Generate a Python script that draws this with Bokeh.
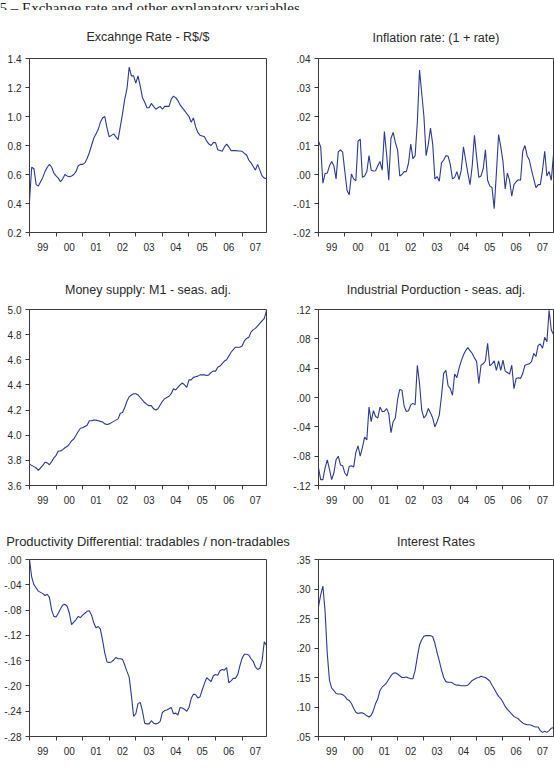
import numpy as np
from bokeh.plotting import figure
from bokeh.layouts import column, row
from bokeh.models import FixedTicker, Range1d
from bokeh.core.properties import value
from bokeh.embed import file_html
from bokeh.resources import INLINE

# ---------------- data (monthly, Jan 1999 .. Dec 2007) ----------------
months = list(range(108))
year_labels = ["99", "00", "01", "02", "03", "04", "05", "06", "07"]
header_text = "5 \u2013 Exchange rate and other explanatory variables"

titles = ["Excahnge Rate - R$/$", "Inflation rate: (1 + rate)",
          "Money supply: M1 - seas. adj.", "Industrial Porduction - seas. adj.",
          "Productivity Differential: tradables / non-tradables", "Interest Rates"]

exchange_rate = [
    0.42, 0.65, 0.64, 0.53, 0.52, 0.55, 0.58, 0.62, 0.65, 0.67, 0.65, 0.61,
    0.59, 0.575, 0.55, 0.57, 0.60, 0.59, 0.585, 0.59, 0.60, 0.62, 0.66, 0.67,
    0.67, 0.68, 0.71, 0.75, 0.80, 0.85, 0.88, 0.91, 0.96, 0.99, 1.00, 0.92,
    0.86, 0.87, 0.88, 0.86, 0.84, 0.93, 1.02, 1.12, 1.19, 1.34, 1.28, 1.28,
    1.23, 1.28, 1.21, 1.13, 1.10, 1.06, 1.06, 1.09, 1.07, 1.05, 1.06, 1.07,
    1.05, 1.07, 1.07, 1.07, 1.12, 1.14, 1.13, 1.11, 1.08, 1.06, 1.04, 1.02,
    1.00, 0.96, 0.99, 0.93, 0.89, 0.87, 0.865, 0.86, 0.83, 0.81, 0.80, 0.82,
    0.82, 0.77, 0.765, 0.76, 0.79, 0.81, 0.79, 0.765, 0.765, 0.765, 0.763, 0.762,
    0.76, 0.745, 0.735, 0.70, 0.68, 0.655, 0.63, 0.67, 0.63, 0.59, 0.575, 0.57]

inflation = [
    0.0115, 0.0095, -0.003, 0.0003, 0.0005, 0.003, 0.0045, 0.003, -0.0015, 0.0078, 0.0085, 0.0077,
    0.001, -0.0055, -0.007, 0.0002, -0.0015, -0.0022, 0.0115, 0.0122, -0.001, -0.0005, 0.001, 0.0065,
    0.0015, 0.0012, 0.0013, 0.003, 0.0045, 0.0015, 0.0148, 0.007, -0.002, 0.0125, 0.0145, 0.011,
    0.0085, -0.0005, 0.0, 0.001, 0.001, 0.004, 0.0105, 0.0055, 0.0065, 0.018, 0.036, 0.028,
    0.020, 0.0065, 0.0105, 0.016, 0.0105, -0.0015, -0.0007, -0.0023, 0.004, 0.005, 0.0065, 0.0063,
    0.0035, -0.0015, -0.001, 0.001, -0.0018, 0.0015, 0.0095, 0.005, 0.0005, -0.0035, 0.003, 0.0135,
    0.006, -0.001, -0.0005, 0.002, 0.0085, -0.002, -0.004, -0.0045, -0.0118, 0.0005, 0.0138, 0.0095,
    0.0045, -0.005, 0.0005, -0.002, -0.0075, -0.0035, -0.0025, -0.0018, -0.002, 0.008, 0.010, 0.0065,
    0.005, 0.0015, -0.0015, -0.0045, -0.0035, -0.0035, 0.0015, 0.008, -0.0005, 0.001, -0.002, 0.007]

money_m1 = [
    3.77, 3.76, 3.75, 3.74, 3.72, 3.74, 3.76, 3.785, 3.78, 3.765, 3.79, 3.82,
    3.84, 3.875, 3.875, 3.885, 3.90, 3.91, 3.93, 3.955, 3.97, 4.00, 4.03, 4.055,
    4.06, 4.07, 4.08, 4.115, 4.115, 4.12, 4.12, 4.115, 4.11, 4.105, 4.09, 4.085,
    4.09, 4.10, 4.11, 4.12, 4.13, 4.175, 4.18, 4.22, 4.27, 4.305, 4.32, 4.33,
    4.33, 4.32, 4.30, 4.28, 4.26, 4.245, 4.235, 4.235, 4.21, 4.20, 4.21, 4.24,
    4.27, 4.29, 4.30, 4.31, 4.33, 4.37, 4.36, 4.38, 4.40, 4.415, 4.40, 4.38,
    4.44, 4.44, 4.46, 4.465, 4.47, 4.48, 4.48, 4.48, 4.475, 4.48, 4.50, 4.51,
    4.51, 4.54, 4.55, 4.57, 4.59, 4.60, 4.63, 4.66, 4.68, 4.70, 4.70, 4.70,
    4.71, 4.75, 4.77, 4.78, 4.82, 4.84, 4.85, 4.87, 4.89, 4.91, 4.93, 4.99]

industrial = [
    -0.096, -0.112, -0.112, -0.096, -0.085, -0.098, -0.112, -0.103, -0.085, -0.080, -0.092, -0.093,
    -0.103, -0.107, -0.094, -0.093, -0.095, -0.075, -0.066, -0.080, -0.068, -0.054, -0.058, -0.013,
    -0.033, -0.018, -0.026, -0.028, -0.013, -0.019, -0.019, -0.015, -0.022, -0.048, -0.033, -0.028,
    -0.003, 0.011, 0.010, -0.012, -0.019, -0.018, -0.010, -0.008, -0.010, 0.044, 0.019, -0.017,
    -0.028, -0.024, -0.015, -0.021, -0.028, -0.040, -0.033, -0.024, 0.002, 0.033, 0.037, 0.016,
    0.012, 0.003, 0.032, 0.027, 0.040, 0.050, 0.058, 0.064, 0.068, 0.064, 0.060, 0.054,
    0.049, 0.019, 0.044, 0.046, 0.050, 0.074, 0.043, 0.046, 0.050, 0.037, 0.050, 0.037,
    0.051, 0.036, 0.034, 0.032, 0.044, 0.012, 0.026, 0.027, 0.026, 0.033, 0.044, 0.045,
    0.046, 0.049, 0.060, 0.056, 0.071, 0.073, 0.067, 0.082, 0.076, 0.119, 0.092, 0.086]

productivity = [
    0.000, -0.028, -0.040, -0.045, -0.050, -0.052, -0.054, -0.057, -0.055, -0.060, -0.080, -0.090,
    -0.091, -0.085, -0.078, -0.072, -0.071, -0.074, -0.085, -0.103, -0.099, -0.095, -0.090, -0.092,
    -0.088, -0.085, -0.082, -0.081, -0.088, -0.100, -0.108, -0.106, -0.110, -0.128, -0.148, -0.162,
    -0.163, -0.162, -0.159, -0.155, -0.157, -0.157, -0.158, -0.167, -0.177, -0.186, -0.215, -0.248,
    -0.244, -0.228, -0.226, -0.240, -0.259, -0.260, -0.260, -0.255, -0.259, -0.260, -0.259, -0.256,
    -0.242, -0.239, -0.238, -0.236, -0.234, -0.244, -0.243, -0.246, -0.234, -0.235, -0.237, -0.240,
    -0.234, -0.220, -0.213, -0.214, -0.219, -0.217, -0.206, -0.196, -0.187, -0.190, -0.193, -0.184,
    -0.182, -0.183, -0.176, -0.174, -0.175, -0.171, -0.195, -0.192, -0.188, -0.188, -0.182, -0.168,
    -0.156, -0.150, -0.150, -0.151, -0.157, -0.161, -0.170, -0.174, -0.172, -0.160, -0.130, -0.136]

interest = [
    0.270, 0.290, 0.305, 0.262, 0.190, 0.145, 0.132, 0.128, 0.123, 0.122, 0.122, 0.121,
    0.118, 0.113, 0.111, 0.106, 0.098, 0.091, 0.089, 0.090, 0.090, 0.088, 0.085, 0.083,
    0.086, 0.094, 0.106, 0.114, 0.128, 0.134, 0.137, 0.141, 0.147, 0.153, 0.157, 0.158,
    0.156, 0.153, 0.150, 0.150, 0.151, 0.149, 0.148, 0.148, 0.162, 0.185, 0.205, 0.214,
    0.220, 0.221, 0.221, 0.221, 0.219, 0.208, 0.192, 0.178, 0.163, 0.150, 0.143, 0.142,
    0.142, 0.141, 0.138, 0.137, 0.137, 0.136, 0.136, 0.136, 0.137, 0.141, 0.145, 0.147,
    0.149, 0.150, 0.152, 0.151, 0.150, 0.147, 0.144, 0.137, 0.131, 0.124, 0.118, 0.114,
    0.108, 0.101, 0.096, 0.092, 0.088, 0.084, 0.082, 0.080, 0.076, 0.073, 0.071, 0.070,
    0.070, 0.069, 0.067, 0.066, 0.066, 0.060, 0.057, 0.059, 0.057, 0.060, 0.064, 0.065]

yt_er = [0.2, 0.4, 0.6, 0.8, 1.0, 1.2, 1.4]
yl_er = ["0.2", "0.4", "0.6", "0.8", "1.0", "1.2", "1.4"]
yt_inf = [-0.02, -0.01, 0.0, 0.01, 0.02, 0.03, 0.04]
yl_inf = ["-.02", "-.01", ".00", ".01", ".02", ".03", ".04"]
yt_m1 = [3.6, 3.8, 4.0, 4.2, 4.4, 4.6, 4.8, 5.0]
yl_m1 = ["3.6", "3.8", "4.0", "4.2", "4.4", "4.6", "4.8", "5.0"]
yt_ip = [-0.12, -0.08, -0.04, 0.0, 0.04, 0.08, 0.12]
yl_ip = ["-.12", "-.08", "-.04", ".00", ".04", ".08", ".12"]
yt_pd = [-0.28, -0.24, -0.20, -0.16, -0.12, -0.08, -0.04, 0.0]
yl_pd = ["-.28", "-.24", "-.20", "-.16", "-.12", "-.08", "-.04", ".00"]
yt_ir = [0.05, 0.10, 0.15, 0.20, 0.25, 0.30, 0.35]
yl_ir = [".05", ".10", ".15", ".20", ".25", ".30", ".35"]

LINE = "#2c3a94"
FRAME = "#3c3c3c"
TXT = "#2a2a2a"
FONT = "Liberation Sans"


def panel(title, y, yticks, ylabels, width, height, bl, br, bt, bb, standoff, tsize="12.5px"):
    p = figure(width=width, height=height, output_backend="svg", toolbar_location=None,
               x_range=Range1d(0, 107), y_range=Range1d(yticks[0], yticks[-1]),
               min_border_left=bl, min_border_right=br, min_border_top=bt,
               min_border_bottom=bb, background_fill_color="white",
               border_fill_color="white")
    p.line(months, y, line_color=LINE, line_width=1.1)
    p.title.text = title
    p.title.align = "center"
    p.title.text_font = FONT
    p.title.text_font_style = "normal"
    p.title.text_font_size = tsize
    p.title.text_color = TXT
    p.title.standoff = standoff
    p.xgrid.visible = False
    p.ygrid.visible = False
    p.outline_line_color = FRAME
    p.outline_line_width = 1
    p.outline_line_alpha = 1

    xa = p.xaxis[0]
    xa.ticker = FixedTicker(ticks=[6 + 12 * k for k in range(len(year_labels))],
                            minor_ticks=[12 * k for k in range(len(year_labels))])
    xa.major_label_overrides = {6 + 12 * k: lab for k, lab in enumerate(year_labels)}
    xa.major_tick_out = 0
    xa.major_tick_in = 0
    xa.minor_tick_out = 4
    xa.minor_tick_in = 0
    xa.minor_tick_line_color = FRAME
    xa.major_label_standoff = 6
    xa.axis_line_color = FRAME

    ya = p.yaxis[0]
    ya.ticker = FixedTicker(ticks=yticks)
    ya.major_label_overrides = {t: l for t, l in zip(yticks, ylabels)}
    ya.major_tick_out = 4
    ya.major_tick_in = 0
    ya.minor_tick_out = 0
    ya.minor_tick_in = 0
    ya.major_tick_line_color = FRAME
    ya.major_label_standoff = 4
    ya.axis_line_color = FRAME

    for ax in (xa, ya):
        ax.major_label_text_font = FONT
        ax.major_label_text_font_size = "10px"
        ax.major_label_text_color = TXT
    return p


hdr = figure(width=554, height=10, output_backend="svg", toolbar_location=None,
             x_range=Range1d(0, 554), y_range=Range1d(0, 10), min_border=0,
             background_fill_color="white", border_fill_color="white")
hdr.xaxis.visible = False
hdr.yaxis.visible = False
hdr.xgrid.visible = False
hdr.ygrid.visible = False
hdr.outline_line_color = None
hdr.text(x=[-1], y=[5], text=[header_text], text_font=value("Liberation Serif"),
         text_font_size="15px", text_baseline="alphabetic", text_color="#222222")

p1 = panel(titles[0], exchange_rate, yt_er, yl_er, 285, 255, 29, 19, 48, 31, 30)
p2 = panel(titles[1], inflation, yt_inf, yl_inf, 269, 255, 33, 1, 46, 33, 28)
p3 = panel(titles[2], money_m1, yt_m1, yl_m1, 285, 255, 29, 19, 44, 35, 26)
p4 = panel(titles[3], industrial, yt_ip, yl_ip, 269, 255, 33, 1, 44, 35, 26)
p5 = panel(titles[4], productivity, yt_pd, yl_pd, 293, 262, 29, 27, 39, 46, 22, "13px")
p6 = panel(titles[5], interest, yt_ir, yl_ir, 261, 262, 25, 1, 39, 46, 22)

layout = column(hdr, row(p1, p2), row(p3, p4), row(p5, p6))

with open("out.html", "w") as f:
    f.write(file_html(layout, INLINE))
